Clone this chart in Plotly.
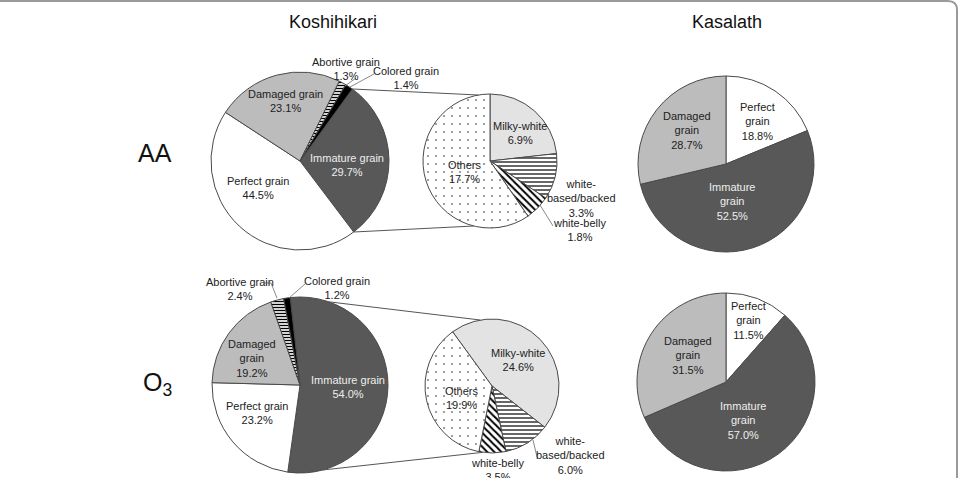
import math
import plotly.graph_objects as go

W, H = 959, 478

# ---------------- data ----------------
ko_labels = ["Immature grain", "Perfect grain", "Damaged grain", "Abortive grain", "Colored grain"]
ko_aa = [29.7, 44.5, 23.1, 1.3, 1.4]
ko_o3 = [54.0, 23.2, 19.2, 2.4, 1.2]

sub_labels = ["Milky-white", "white-based/backed", "white-belly", "Others"]
sub_aa = [6.9, 3.3, 1.8, 17.7]
sub_o3 = [24.6, 6.0, 3.5, 19.9]

ka_labels = ["Perfect grain", "Immature grain", "Damaged grain"]
ka_aa = [18.8, 52.5, 28.7]
ka_o3 = [11.5, 57.0, 31.5]

col_titles = ["Koshihikari", "Kasalath"]
row_titles = ["AA", "O<sub>3</sub>"]

# ---------------- styling ----------------
FONT = "Arial, Liberation Sans, sans-serif"
DARK = "#585858"
LIGHT = "#bcbcbc"
MILKY = "#e3e3e3"
EDGE = "#4a4a4a"

ko_colors = [DARK, "white", LIGHT, "white", "black"]
ko_shapes = ["", "", "", "-", ""]
sub_colors = [MILKY, "white", "white", "white"]
sub_shapes = ["", "-", "\\", "."]
ka_colors = ["white", DARK, LIGHT]


def px2paper(x, y):
    return x / W, 1 - y / H


def dom(cx, cy, r):
    return dict(x=[(cx - r) / W, (cx + r) / W], y=[1 - (cy + r) / H, 1 - (cy - r) / H])


def on_circle(cx, cy, r, ang):
    a = math.radians(ang)
    return cx + r * math.sin(a), cy - r * math.cos(a)


fig = go.Figure()


def add_pie(labels, values, colors, shapes, center, r, rotation, sizes=None, solid=None, fg=None):
    pattern = dict(shape=shapes, fgcolor=fg or ["black"] * len(values),
                   size=sizes or [4] * len(values), solidity=solid or [0.35] * len(values))
    fig.add_trace(go.Pie(
        labels=labels, values=values, sort=False, direction="clockwise",
        rotation=rotation, textinfo="none", showlegend=False, hoverinfo="skip",
        domain=dom(*center, r),
        marker=dict(colors=colors, line=dict(color=EDGE, width=1), pattern=pattern),
    ))


# pie geometry (pixels)
KA = (300, 161, 89)
KAs = (490, 161, 67)
KaA = (726, 164, 88)
KO = (300, 385, 88)
KOs = (492, 386, 67)
KaO = (726, 382, 89)

SUB_FG = ["black", "black", "black", "#8a8a8a"]
add_pie(ko_labels, ko_aa, ko_colors, ko_shapes, KA[:2], KA[2], 36,
        sizes=[4, 4, 4, 3, 4], solid=[0.35, 0.35, 0.35, 0.45, 0.35])
add_pie(sub_labels, sub_aa, sub_colors, sub_shapes, KAs[:2], KAs[2], 0,
        sizes=[4, 4, 5, 8], solid=[0.3, 0.3, 0.4, 0.06], fg=SUB_FG)
add_pie(ka_labels, ka_aa, ka_colors, ["", "", ""], KaA[:2], KaA[2], 0)

add_pie(ko_labels, ko_o3, ko_colors, ko_shapes, KO[:2], KO[2], -6.4,
        sizes=[4, 4, 4, 3, 4], solid=[0.35, 0.35, 0.35, 0.45, 0.35])
add_pie(sub_labels, sub_o3, sub_colors, sub_shapes, KOs[:2], KOs[2], -36,
        sizes=[4, 4, 5, 8], solid=[0.3, 0.3, 0.4, 0.06], fg=SUB_FG)
add_pie(ka_labels, ka_o3, ka_colors, ["", "", ""], KaO[:2], KaO[2], 0)

# ---------------- annotations ----------------
ann = []


def label(text, x, y, size=11, color="#222222"):
    xp, yp = px2paper(x, y)
    ann.append(dict(text=text, x=xp, y=yp, xref="paper", yref="paper", showarrow=False,
                    xanchor="center", yanchor="middle",
                    font=dict(family=FONT, size=size, color=color)))


def pct(v):
    return f"{v:.1f}%"


# column / row titles
label(col_titles[0], 333, 22, size=18, color="#111111")
label(col_titles[1], 727, 22, size=18, color="#111111")
label(row_titles[0], 155, 153, size=25, color="#111111")
label(row_titles[1], 157, 384, size=25, color="#111111")

WHITE_T = "#eeeeee"
# AA Koshihikari main
label(f"{ko_labels[3]}<br>{pct(ko_aa[3])}", 346, 69)
label(f"{ko_labels[4]}<br>{pct(ko_aa[4])}", 406, 78)
label(f"{ko_labels[2]}<br>{pct(ko_aa[2])}", 285, 101)
label(f"{ko_labels[0]}<br>{pct(ko_aa[0])}", 347, 165, color=WHITE_T)
label(f"{ko_labels[1]}<br>{pct(ko_aa[1])}", 258, 188)
# AA sub
label(f"{sub_labels[0]}<br>{pct(sub_aa[0])}", 520, 133)
label(f"{sub_labels[3]}<br>{pct(sub_aa[3])}", 465, 172)
label(f"white-<br>based/backed<br>{pct(sub_aa[1])}", 581, 198)
label(f"{sub_labels[2]}<br>{pct(sub_aa[2])}", 579, 230)
# AA Kasalath
label(f"Perfect<br>grain<br>{pct(ka_aa[0])}", 757, 122)
label(f"Damaged<br>grain<br>{pct(ka_aa[2])}", 687, 130)
label(f"Immature<br>grain<br>{pct(ka_aa[1])}", 732, 202, color=WHITE_T)

# O3 Koshihikari main
label(f"{ko_labels[3]}<br>{pct(ko_o3[3])}", 240, 289)
label(f"{ko_labels[4]}<br>{pct(ko_o3[4])}", 337, 288)
label(f"Damaged<br>grain<br>{pct(ko_o3[2])}", 252, 358)
label(f"{ko_labels[1]}<br>{pct(ko_o3[1])}", 257, 413)
label(f"{ko_labels[0]}<br>{pct(ko_o3[0])}", 348, 387, color=WHITE_T)
# O3 sub
label(f"{sub_labels[0]}<br>{pct(sub_o3[0])}", 518, 360)
label(f"{sub_labels[3]}<br>{pct(sub_o3[3])}", 462, 398)
label(f"white-<br>based/backed<br>{pct(sub_o3[1])}", 570, 455)
label(f"{sub_labels[2]}<br>{pct(sub_o3[2])}", 497, 470)
# O3 Kasalath
label(f"Perfect<br>grain<br>{pct(ka_o3[0])}", 748, 320)
label(f"Damaged<br>grain<br>{pct(ka_o3[2])}", 688, 355)
label(f"Immature<br>grain<br>{pct(ka_o3[1])}", 743, 420, color=WHITE_T)

# ---------------- connector / leader lines ----------------
shapes = []


def line(p1, p2, color="#555555", width=1):
    x0, y0 = px2paper(*p1)
    x1, y1 = px2paper(*p2)
    shapes.append(dict(type="line", xref="paper", yref="paper", x0=x0, y0=y0, x1=x1, y1=y1,
                       line=dict(color=color, width=width), layer="above"))


a_top = 36
a_bot = 36 + ko_aa[0] * 3.6
line(on_circle(*KA, a_top), on_circle(*KAs, -10))
line(on_circle(*KA, a_bot), on_circle(*KAs, 194))
line(on_circle(*KO, 19), on_circle(*KOs, -10))
line(on_circle(*KO, 165), on_circle(*KOs, 188))

GL = "#8a8a8a"
line((356, 78), (345, 86), color=GL)
line((374, 74), (350, 87), color=GL)
line((540, 205), (553, 226), color=GL)
line((264, 283), (271, 283), color=GL)
line((271, 283), (277, 298), color=GL)
line((305, 284), (289, 298), color=GL)
line((533, 440), (537, 457), color=GL)

shapes.append(dict(type="path", xref="paper", yref="paper",
                   path=f"M 0,{1 - 1 / H} L {948 / W},{1 - 1 / H} Q {957 / W},{1 - 1 / H} {957 / W},{1 - 10 / H} L {957 / W},0",
                   line=dict(color="#9a9a9a", width=2)))

fig.update_layout(
    width=W, height=H, margin=dict(l=0, r=0, t=0, b=0),
    paper_bgcolor="white", plot_bgcolor="white",
    annotations=ann, shapes=shapes, hovermode=False,
    font=dict(family=FONT),
)

fig.write_html("out.html", config={"displayModeBar": False})
